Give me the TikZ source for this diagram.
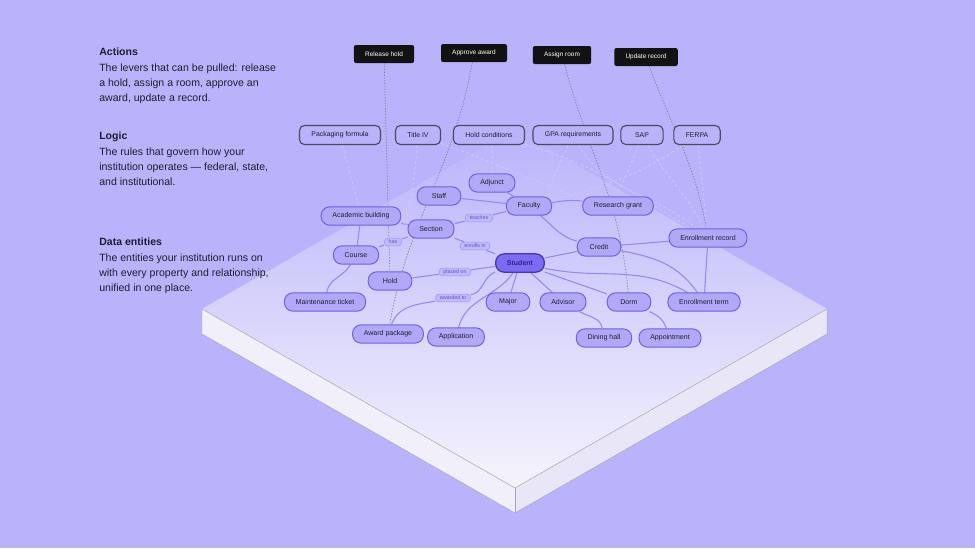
\documentclass[tikz,border=0pt]{standalone}
\usepackage{fontspec}
\setmainfont{Liberation Sans}
\usepackage{tikz}
\usetikzlibrary{shapes,arrows,positioning,calc,backgrounds}

\definecolor{bgc}{HTML}{B9B3FB}
\definecolor{entfill}{HTML}{B1A9F8}
\definecolor{entline}{HTML}{6E60E6}
\definecolor{stufill}{HTML}{7B6BF5}
\definecolor{stuline}{HTML}{4535B8}
\definecolor{relc}{HTML}{9388F2}
\definecolor{govc}{HTML}{CDC8FB}
\definecolor{actc}{HTML}{808096}
\definecolor{inkc}{HTML}{1F1E2C}
\definecolor{logicline}{HTML}{4B4A5C}
\definecolor{lblfill}{HTML}{C0B9FB}
\definecolor{lblline}{HTML}{9F95F2}
\definecolor{lbltext}{HTML}{5E54C4}
\definecolor{slabmid}{HTML}{C6C1FA}
\definecolor{slabbot}{HTML}{F5F4FC}
\definecolor{sideleft}{HTML}{F1F0FA}
\definecolor{sideright}{HTML}{E8E6F7}
\definecolor{edgegray}{HTML}{A7A5B5}

\pgfdeclarelayer{back}
\pgfsetlayers{back,background,main}

\begin{document}
\begin{tikzpicture}[
    x=0.025cm, y=-0.025cm,
    blurb/.style={anchor=north west, align=left, inner sep=0, text=inkc, font=\fontsize{7.5}{10.9}\selectfont},
    action/.style={rectangle, fill=black!93, text=white, rounded corners=1.5pt, minimum height=12.8pt, inner xsep=8pt, font=\fontsize{4.6}{5}\selectfont},
    logic/.style={rectangle, draw=logicline, line width=0.8pt, fill=bgc, text=inkc, rounded corners=3.5pt, minimum height=13.5pt, minimum width=30pt, inner xsep=8.5pt, font=\fontsize{4.9}{5}\selectfont},
    entity/.style={rectangle, draw=entline, line width=0.7pt, fill=entfill, text=inkc, rounded corners=6pt, minimum height=13pt, minimum width=31pt, inner xsep=8pt, font=\fontsize{5}{6}\selectfont},
    focus/.style={entity, draw=stuline, fill=stufill, line width=0.9pt, text=stuline!70!black, font=\fontsize{5}{6}\selectfont\bfseries},
    lbl/.style={rectangle, draw=lblline, line width=0.4pt, fill=lblfill, text=lbltext, rounded corners=2.5pt, minimum height=5.6pt, inner xsep=3pt, inner ysep=0.8pt, font=\fontsize{3.8}{4}\selectfont},
    rel/.style={draw=relc, line width=0.75pt},
    gov/.style={draw=govc, line width=0.6pt, dash pattern=on 2pt off 1.8pt},
    act/.style={draw=actc, line width=0.5pt, dash pattern=on 0.9pt off 1.1pt}
]
    % background and slab
    \begin{pgfonlayer}{back}
        \fill[bgc] (0,0) rectangle (975,548);
        \path[top color=bgc, middle color=slabmid, bottom color=slabbot]
            (202,309) -- (515,130) -- (827,309) -- (515,488) -- cycle;
        \fill[sideleft] (202,309) -- (515,488) -- (515,513) -- (202,334) -- cycle;
        \fill[sideright] (515,488) -- (827,309) -- (827,334) -- (515,513) -- cycle;
        \draw[edgegray, line width=0.35pt] (202,334) -- (202,309) -- (515,488) -- (827,309) -- (827,334);
        \draw[edgegray, line width=0.35pt] (202,334) -- (515,513) -- (827,334);
        \draw[edgegray, line width=0.35pt] (515,488) -- (515,513);
        \draw[white, opacity=0.1, line width=0.4pt] (202,309) -- (515,130) -- (827,309);
    \end{pgfonlayer}

    % left texts
    \node[blurb] (acttxt) at (99,48) {\textbf{Actions}\\The levers that can be pulled: release\\a hold, assign a room, approve an\\award, update a record.};
    \node[blurb] (logtxt) at (99,132) {\textbf{Logic}\\The rules that govern how your\\institution operates — federal, state,\\and institutional.};
    \node[blurb] (enttxt) at (99,238) {\textbf{Data entities}\\The entities your institution runs on\\with every property and relationship,\\unified in one place.};

    % actions
    \node[action] (release) at (384,54) {Release hold};
    \node[action] (approve) at (474,53) {Approve award};
    \node[action] (assign) at (562,55) {Assign room};
    \node[action] (update) at (646,57) {Update record};

    % logic
    \node[logic] (pkg) at (340,135) {Packaging formula};
    \node[logic] (titleiv) at (418,135) {Title IV};
    \node[logic] (holdc) at (489,135) {Hold conditions};
    \node[logic] (gpa) at (573,135) {GPA requirements};
    \node[logic] (sap) at (642,135) {SAP};
    \node[logic] (ferpa) at (697,135) {FERPA};

    % data entities
    \node[entity] (adjunct) at (492,183) {Adjunct};
    \node[entity] (staff) at (439,196) {Staff};
    \node[entity] (faculty) at (529,206) {Faculty};
    \node[entity] (research) at (618,206) {Research grant};
    \node[entity] (acad) at (361,216) {Academic building};
    \node[entity] (section) at (431,229) {Section};
    \node[entity] (credit) at (599,247) {Credit};
    \node[entity] (enrrec) at (708,238) {Enrollment record};
    \node[entity] (course) at (356,255) {Course};
    \node[focus] (student) at (520,263) {Student};
    \node[entity] (hold) at (390,281) {Hold};
    \node[entity] (maint) at (325,302) {Maintenance ticket};
    \node[entity] (major) at (508,302) {Major};
    \node[entity] (advisor) at (563,302) {Advisor};
    \node[entity] (dorm) at (629,302) {Dorm};
    \node[entity] (enrterm) at (704,302) {Enrollment term};
    \node[entity] (award) at (388,334) {Award package};
    \node[entity] (appl) at (456,337) {Application};
    \node[entity] (dining) at (604,338) {Dining hall};
    \node[entity] (appt) at (670,338) {Appointment};

    % relation labels
    \node[lbl] (teaches) at (479,218) {teaches};
    \node[lbl] (has) at (393,242) {has};
    \node[lbl] (enrolls) at (475,246) {enrolls in};
    \node[lbl] (placed) at (455,272) {placed on};
    \node[lbl] (awarded) at (453,298) {awarded to};

    \begin{scope}[on background layer]
        % relations
        \draw[rel] (acad) -- (course);
        \draw[rel] (acad) -- (section);
        \draw[rel] (course) -- (has) -- (section);
        \draw[rel] (course) to[out=240,in=80] (maint);
        \draw[rel] (section) -- (teaches) -- (faculty);
        \draw[rel] (section) -- (enrolls) -- (student);
        \draw[rel] (hold) -- (placed) -- (student);
        \draw[rel] (student) to[out=200,in=10] (awarded) to[out=190,in=70] (award);
        \draw[rel] (staff) -- (faculty);
        \draw[rel] (adjunct) -- (faculty);
        \draw[rel] (faculty) to[bend left=8] (research);
        \draw[rel] (faculty) to[out=-40,in=165] (credit);
        \draw[rel] (student) -- (credit);
        \draw[rel] (credit) -- (enrrec);
        \draw[rel] (credit) to[out=-10,in=125] (enrterm);
        \draw[rel] (enrrec) -- (enrterm);
        \draw[rel] (student) -- (major);
        \draw[rel] (student) -- (advisor);
        \draw[rel] (student) to[out=-20,in=160] (dorm);
        \draw[rel] (student) to[out=-12,in=150] (enrterm);
        \draw[rel] (student) to[out=235,in=75] (appl);
        \draw[rel] (advisor) to[out=-30,in=100] (dining);
        \draw[rel] (dorm) to[out=-25,in=110] (appt);

        % logic links
        \draw[gov] (pkg) -- (acad);
        \draw[gov] (titleiv) to[bend left=6] (hold);
        \draw[gov] (titleiv) to[out=-20,in=165] (enrrec);
        \draw[gov] (holdc) to[out=-75,in=95] (adjunct);
        \draw[gov] (holdc) to[out=-15,in=150] (enrrec);
        \draw[gov] (gpa) to[out=245,in=70] (student);
        \draw[gov] (gpa) to[out=-60,in=140] (enrrec);
        \draw[gov] (sap) to[out=250,in=75] (credit);
        \draw[gov] (sap) to[out=-60,in=115] (enrrec);
        \draw[gov] (ferpa) to[out=215,in=15] (faculty);
        \draw[gov] (ferpa) -- (enrrec);

        % action links
        \draw[act] (release) -- (hold);
        \draw[act] (approve) to[out=-100,in=80] (award);
        \draw[act] (assign) to[out=-75,in=95] (dorm);
        \draw[act] (update) to[out=-70,in=100] (enrrec);
    \end{scope}

    \useasboundingbox (0,0) rectangle (975,548);
\end{tikzpicture}
\end{document}
